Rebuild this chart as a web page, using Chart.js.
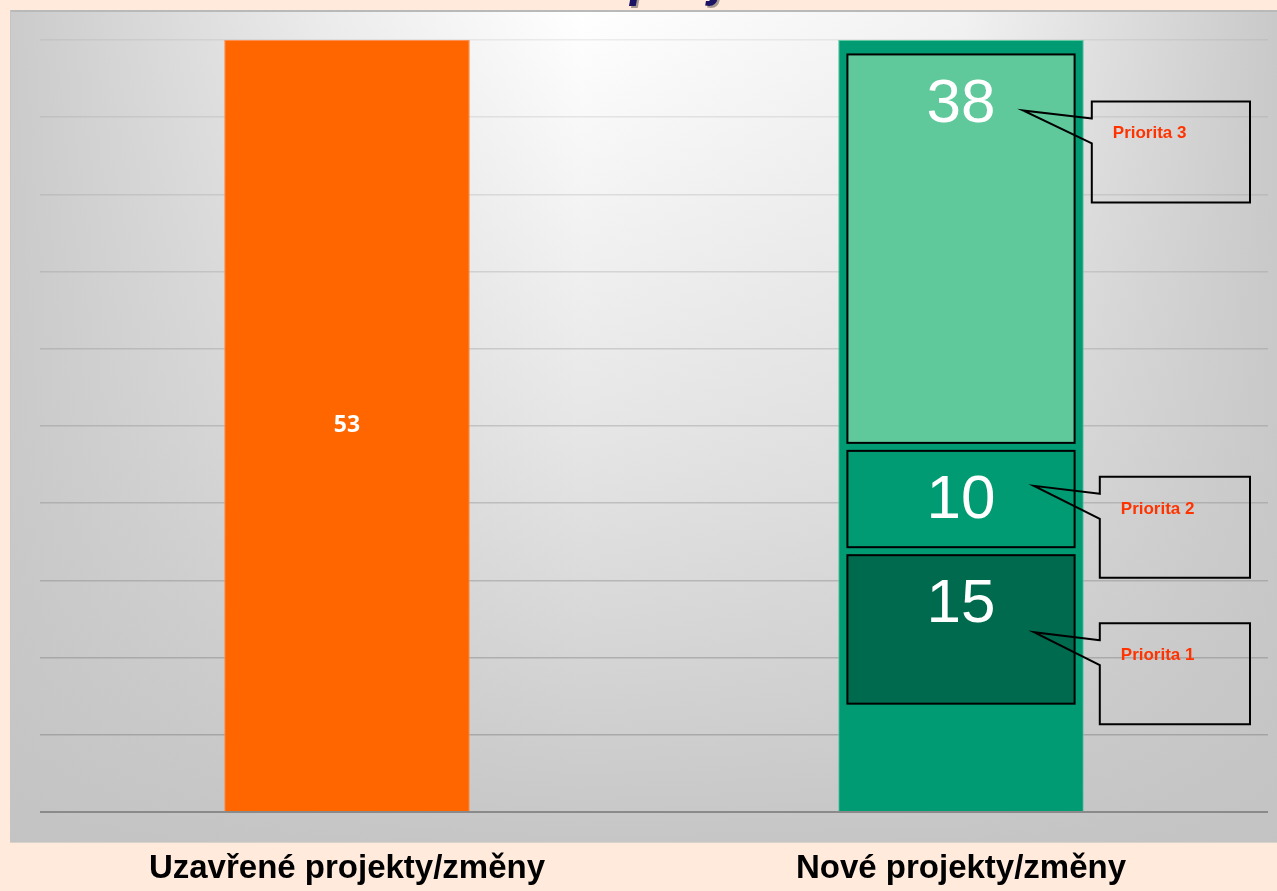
<!DOCTYPE html>
<html>
<head>
<meta charset="utf-8">
<script src="https://cdn.jsdelivr.net/npm/chart.js@4"></script>
<style>
  html, body { margin: 0; padding: 0; background: #FFEADB; }
  #wrap { width: 1277px; height: 891px; }
</style>
</head>
<body>
<div id="wrap"><canvas id="chart"></canvas></div>
<script>
  // data
  const categories = ['Uzavřené projekty/změny', 'Nové projekty/změny'];
  const closedValues = [53, null];
  const priorityLabels = ['Priorita 1', 'Priorita 2', 'Priorita 3'];
  const priority1 = [null, 15];
  const priority2 = [null, 10];
  const priority3 = [null, 38];
  const titleText = 'Stav projektů';

  // 100% stacked share of each column
  const newTotals = categories.map((c, i) => (priority1[i] || 0) + (priority2[i] || 0) + (priority3[i] || 0));
  const colTotals = categories.map((c, i) => (closedValues[i] || 0) + newTotals[i]);
  const closedPct = closedValues.map((v, i) => v == null ? null : v / colTotals[i] * 100);
  const newPct = newTotals.map((v, i) => v ? v / colTotals[i] * 100 : null);

  const prioColors = ['#006A4E', '#009B72', '#5FC99C'];

  // background panel
  const panelPlugin = {
    id: 'panel',
    beforeDraw(chart) {
      const c = chart.ctx;
      const x0 = 10, y0 = 10, x1 = 1277, y1 = 842;
      c.save();
      let g = c.createLinearGradient(x0, 0, x1, 0);
      g.addColorStop(0, '#cbcbcb');
      g.addColorStop(0.25, '#ececec');
      g.addColorStop(0.45, '#ffffff');
      g.addColorStop(0.75, '#f2f2f2');
      g.addColorStop(1, '#c9c9c9');
      c.fillStyle = g;
      c.fillRect(x0, y0, x1 - x0, y1 - y0);
      let v = c.createLinearGradient(0, y0, 0, y1);
      v.addColorStop(0, 'rgba(200,200,200,0)');
      v.addColorStop(0.5, 'rgba(200,200,200,0.45)');
      v.addColorStop(1, 'rgba(195,195,195,0.95)');
      c.fillStyle = v;
      c.fillRect(x0, y0, x1 - x0, y1 - y0);
      c.fillStyle = '#b9b9b9';
      c.fillRect(x0, y0, x1 - x0, 2);
      c.fillStyle = '#c4c4c4';
      c.fillRect(x0, y0, 1, y1 - y0);
      c.fillStyle = '#d9d2c8';
      c.fillRect(x0, y1, x1 - x0, 1);
      c.restore();
    },
    afterDraw(chart) {
      // title, mostly above the visible area
      const c = chart.ctx;
      c.save();
      c.font = 'italic bold 50px "Liberation Sans"';
      c.fillStyle = '#1B1464';
      c.shadowColor = 'rgba(0,0,0,0.35)';
      c.shadowOffsetX = 2;
      c.shadowOffsetY = 2;
      c.textBaseline = 'alphabetic';
      const w = c.measureText('Stav ').width;
      c.fillText(titleText, 630 - w, -4);
      c.restore();
    }
  };

  // priority boxes, values and callouts
  const tipOffsets = [27, -15, 6];   // where each callout points, relative to the value
  const boxPlugin = {
    id: 'boxes',
    afterDatasetsDraw(chart) {
      const c = chart.ctx;
      c.save();

      // value on closed bar
      const closedEl = chart.getDatasetMeta(0).data[0];
      c.font = 'bold 23px "Open Sans"';
      c.fillStyle = '#ffffff';
      c.textAlign = 'center';
      c.textBaseline = 'middle';
      c.fillText(String(closedValues[0]), closedEl.x, (closedEl.y + closedEl.base) / 2);

      const greenEl = chart.getDatasetMeta(1).data[1];
      const greenRight = greenEl.x + greenEl.width / 2;
      const vals = [priority1, priority2, priority3];

      [2, 3, 4].forEach((di, k) => {
        const el = chart.getDatasetMeta(di).data[1];
        const left = el.x - el.width / 2;
        const top = el.y + 4;
        const bottom = el.base - 4;
        c.fillStyle = prioColors[k];
        c.fillRect(left, top, el.width, bottom - top);
        c.lineWidth = 2;
        c.strokeStyle = '#000000';
        c.strokeRect(left, top, el.width, bottom - top);

        const ly = top + 50;
        c.font = '62px "Liberation Sans"';
        c.fillStyle = '#ffffff';
        c.textAlign = 'center';
        c.textBaseline = 'middle';
        c.fillText(String(vals[k][1]), el.x, ly);

        // callout
        const tipX = el.x + (k === 2 ? 62 : 73), tipY = ly + tipOffsets[k];
        const bx = greenRight + (k === 2 ? 8 : 16), bw = 1250 - bx;
        const by = tipY - 9, bh = 101;
        c.beginPath();
        c.moveTo(bx, by + 17);
        c.lineTo(tipX, tipY);
        c.lineTo(bx, by + 42);
        c.lineTo(bx, by + bh);
        c.lineTo(bx + bw, by + bh);
        c.lineTo(bx + bw, by);
        c.lineTo(bx, by);
        c.closePath();
        c.lineWidth = 2;
        c.strokeStyle = '#000000';
        c.stroke();

        c.font = 'bold 17px "Liberation Sans"';
        c.fillStyle = '#FF3300';
        c.textAlign = 'left';
        c.fillText(priorityLabels[k], bx + 21, by + 32);
      });
      c.restore();
    }
  };

  const ctx = document.getElementById('chart');

  const common = { grouped: false, categoryPercentage: 1.0 };

  new Chart(ctx, {
    type: 'bar',
    data: {
      labels: categories,
      datasets: [
        {
          ...common,
          label: 'Uzavřené',
          data: closedPct,
          backgroundColor: '#FF6600',
          borderColor: '#FF8F50',
          borderWidth: 1,
          stack: 'main',
          yAxisID: 'y',
          barPercentage: 0.4
        },
        {
          ...common,
          label: 'Nové',
          data: newPct,
          backgroundColor: '#009B72',
          borderColor: '#62C9A2',
          borderWidth: 1,
          stack: 'main',
          yAxisID: 'y',
          barPercentage: 0.4
        },
        // priorities are drawn by the plugin, these only give the geometry
        { ...common, label: priorityLabels[0], data: priority1, backgroundColor: 'rgba(0,0,0,0)', borderWidth: 0,
          stack: 'prio', yAxisID: 'y2', barPercentage: 0.37 },
        { ...common, label: priorityLabels[1], data: priority2, backgroundColor: 'rgba(0,0,0,0)', borderWidth: 0,
          stack: 'prio', yAxisID: 'y2', barPercentage: 0.37 },
        { ...common, label: priorityLabels[2], data: priority3, backgroundColor: 'rgba(0,0,0,0)', borderWidth: 0,
          stack: 'prio', yAxisID: 'y2', barPercentage: 0.37 }
      ]
    },
    options: {
      responsive: true,
      maintainAspectRatio: false,
      animation: false,
      layout: { padding: { left: 40, right: 9, top: 40, bottom: 4 } },
      scales: {
        x: {
          type: 'category',
          offset: true,
          stacked: true,
          afterFit: s => { s.height = 75; },
          grid: { display: false },
          border: { display: false },
          ticks: {
            color: '#000000',
            padding: 29,
            maxRotation: 0,
            font: { family: '"Liberation Sans"', size: 33, weight: 'bold' }
          }
        },
        y: {
          min: 0,
          max: 100,
          stacked: true,
          afterFit: s => { s.width = 0; },
          ticks: { display: false, stepSize: 10 },
          border: { display: false },
          grid: {
            drawTicks: false,
            color: c => c.index === 0 ? '#8a8a8a' : `rgba(120,120,120,${0.12 + (10 - c.index) * 0.035})`,
            lineWidth: c => c.index === 0 ? 2 : 1.5
          }
        },
        y2: {
          min: -10,
          max: 64,
          stacked: true,
          display: false
        }
      },
      plugins: {
        legend: { display: false },
        tooltip: { enabled: false }
      }
    },
    plugins: [panelPlugin, boxPlugin]
  });
</script>
</body>
</html>
